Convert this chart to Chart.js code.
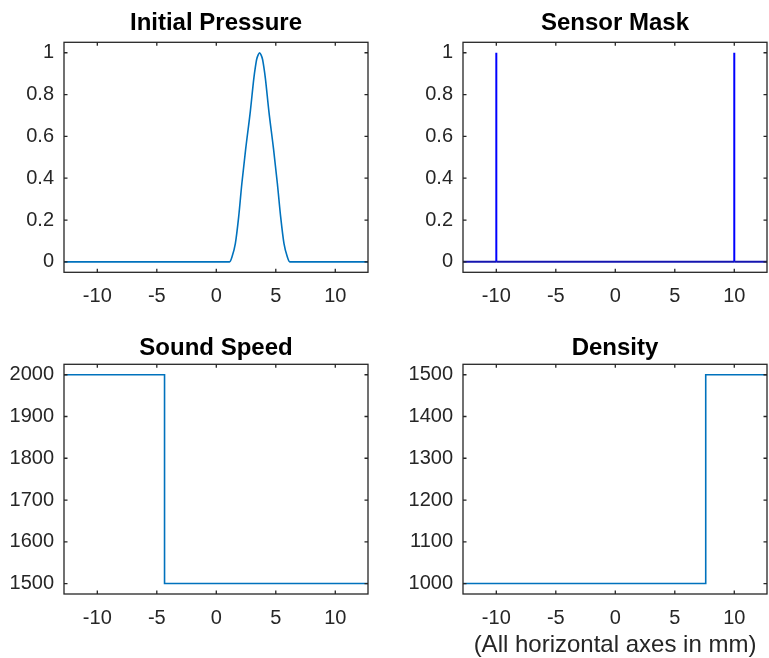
<!DOCTYPE html>
<html>
<head>
<meta charset="utf-8">
<title>Simulation inputs</title>
<script src="https://cdn.jsdelivr.net/npm/chart.js@4.4.1/dist/chart.umd.min.js"></script>
<style>
  html, body { margin: 0; padding: 0; background: #fff; overflow: hidden; }
  body { width: 769px; height: 658px; position: relative; }
  canvas { position: absolute; }
</style>
</head>
<body>
<canvas id="pressure" width="370" height="320" style="left:0px;top:0px"></canvas>
<canvas id="mask" width="370" height="320" style="left:399px;top:0px"></canvas>
<canvas id="speed" width="370" height="338" style="left:0px;top:320px"></canvas>
<canvas id="density" width="370" height="338" style="left:399px;top:320px"></canvas>
<script>
// grid position in mm, shared by all four panels
const xTicks = [-10, -5, 0, 5, 10];
const xMin = -12.8;
const xMax = 12.75;

// initial pressure pulse
const pressureX = [-12.8, 1.12, 1.31, 1.60, 1.88, 2.15, 2.47, 2.86, 3.16, 3.28, 3.40, 3.52, 3.64,
                   3.76, 3.88, 4.00, 4.12, 4.42, 4.81, 5.13, 5.41, 5.69, 5.98, 6.17, 12.75];
const pressureY = [0, 0, 0.022, 0.087, 0.215, 0.376, 0.54, 0.72, 0.88, 0.93, 0.97, 0.99, 1,
                   0.99, 0.97, 0.93, 0.88, 0.72, 0.54, 0.376, 0.215, 0.087, 0.022, 0, 0];
const pressureTicks = [0, 0.2, 0.4, 0.6, 0.8, 1];

// sensor mask: two single-point sensors
const maskX = [-12.8, -10, -10, -10, 10, 10, 10, 12.75];
const maskY = [0, 0, 1, 0, 0, 1, 0, 0];
const maskTicks = [0, 0.2, 0.4, 0.6, 0.8, 1];

// sound speed (m/s)
const speedX = [-12.8, -4.35, -4.35, 12.75];
const speedY = [2000, 2000, 1500, 1500];
const speedTicks = [1500, 1600, 1700, 1800, 1900, 2000];

// density (kg/m^3)
const densityX = [-12.8, 7.6, 7.6, 12.75];
const densityY = [1000, 1000, 1500, 1500];
const densityTicks = [1000, 1100, 1200, 1300, 1400, 1500];

const FONT = "'Liberation Sans', Arial, Helvetica, sans-serif";
const AXIS_COLOR = '#262626';
const TICK_LEN = 3.5;

Chart.defaults.font.family = FONT;

// box around the axes with inward ticks on every side
const boxAxes = {
  id: 'boxAxes',
  afterDraw(chart) {
    const { ctx, chartArea: a, scales: { x, y } } = chart;
    ctx.save();
    ctx.strokeStyle = AXIS_COLOR;
    ctx.lineWidth = 1.3;
    ctx.strokeRect(a.left, a.top, a.right - a.left, a.bottom - a.top);
    ctx.beginPath();
    x.ticks.forEach(t => {
      const px = x.getPixelForValue(t.value);
      ctx.moveTo(px, a.bottom); ctx.lineTo(px, a.bottom - TICK_LEN);
      ctx.moveTo(px, a.top); ctx.lineTo(px, a.top + TICK_LEN);
    });
    y.ticks.forEach(t => {
      const py = y.getPixelForValue(t.value);
      ctx.moveTo(a.left, py); ctx.lineTo(a.left + TICK_LEN, py);
      ctx.moveTo(a.right, py); ctx.lineTo(a.right - TICK_LEN, py);
    });
    ctx.stroke();
    ctx.restore();
  }
};

function toPoints(xs, ys) {
  return xs.map((v, i) => ({ x: v, y: ys[i] }));
}

function makePanel(id, cfg) {
  const span = cfg.yTicks[cfg.yTicks.length - 1] - cfg.yTicks[0];
  return new Chart(document.getElementById(id), {
    type: 'line',
    data: { datasets: [cfg.dataset] },
    options: {
      responsive: false,
      animation: false,
      devicePixelRatio: 1,
      layout: { padding: { left: 0, right: 2, top: 0, bottom: 0 } },
      plugins: {
        legend: { display: false },
        tooltip: { enabled: false },
        title: {
          display: true,
          fullSize: false,
          text: cfg.title,
          color: '#000',
          font: { size: 24, weight: 'bold', lineHeight: 1.2 },
          padding: cfg.titlePad
        }
      },
      scales: {
        x: {
          type: 'linear',
          min: xMin,
          max: xMax,
          grid: { display: false, drawTicks: false },
          border: { display: false },
          afterBuildTicks: s => { s.ticks = xTicks.map(v => ({ value: v })); },
          afterFit: s => { s.height = cfg.xAxisH; s.paddingLeft = 0; s.paddingRight = 0; },
          ticks: {
            autoSkip: false, maxRotation: 0, padding: 12.5,
            color: AXIS_COLOR, font: { size: 20 },
            callback: v => String(v)
          },
          title: cfg.xTitle ? {
            display: true,
            text: cfg.xTitle,
            color: AXIS_COLOR,
            font: { size: 24, lineHeight: 1 },
            padding: { top: 0, bottom: 0.7 }
          } : { display: false }
        },
        y: {
          type: 'linear',
          min: cfg.yTicks[0] - span * 0.05,
          max: cfg.yTicks[cfg.yTicks.length - 1] + span * 0.05,
          grid: { display: false, drawTicks: false },
          border: { display: false },
          afterBuildTicks: s => { s.ticks = cfg.yTicks.map(v => ({ value: v })); },
          afterFit: s => { s.width = 64; s.paddingTop = 0; s.paddingBottom = 0; },
          ticks: {
            autoSkip: false, padding: 10,
            color: AXIS_COLOR, font: { size: 20 },
            callback: v => String(v)
          }
        }
      }
    },
    plugins: [boxAxes]
  });
}

const lineBlue = '#0072BD';

makePanel('pressure', {
  title: 'Initial Pressure',
  titlePad: { top: 9.3, bottom: 4.2 },
  xAxisH: 47.7,
  yTicks: pressureTicks,
  dataset: {
    data: toPoints(pressureX, pressureY),
    borderColor: lineBlue, borderWidth: 1.6, pointRadius: 0,
    cubicInterpolationMode: 'monotone'
  }
});

makePanel('mask', {
  title: 'Sensor Mask',
  titlePad: { top: 9.3, bottom: 4.2 },
  xAxisH: 47.7,
  yTicks: maskTicks,
  dataset: {
    data: toPoints(maskX, maskY),
    borderColor: '#0000FF', borderWidth: 2, pointRadius: 0,
    segment: {
      borderColor: c => (c.p0.parsed.y === 0 && c.p1.parsed.y === 0) ? '#1515B0' : '#0000FF'
    }
  }
});

makePanel('speed', {
  title: 'Sound Speed',
  titlePad: { top: 13.8, bottom: 1.7 },
  xAxisH: 64,
  yTicks: speedTicks,
  dataset: {
    data: toPoints(speedX, speedY),
    borderColor: lineBlue, borderWidth: 1.6, pointRadius: 0
  }
});

makePanel('density', {
  title: 'Density',
  titlePad: { top: 13.8, bottom: 1.7 },
  xAxisH: 64,
  xTitle: '(All horizontal axes in mm)',
  yTicks: densityTicks,
  dataset: {
    data: toPoints(densityX, densityY),
    borderColor: lineBlue, borderWidth: 1.6, pointRadius: 0
  }
});
</script>
</body>
</html>
